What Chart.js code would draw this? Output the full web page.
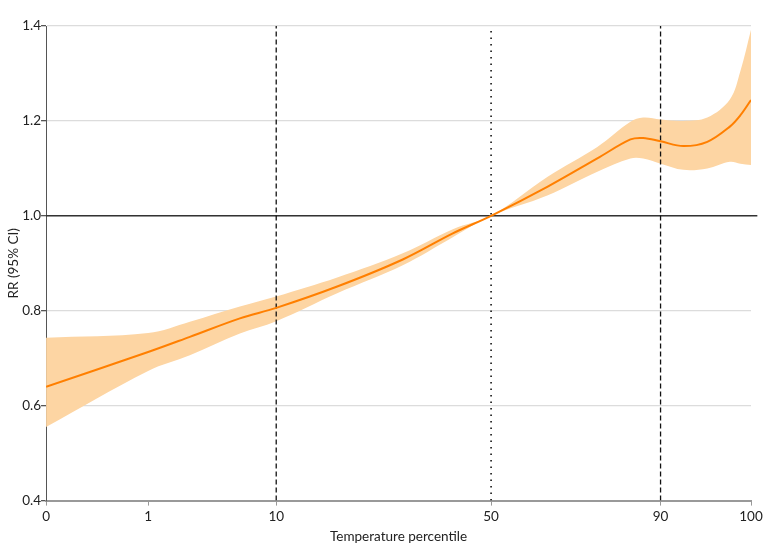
<!DOCTYPE html>
<html>
<head>
<meta charset="utf-8">
<script src="https://cdn.jsdelivr.net/npm/chart.js@4.4.0/dist/chart.umd.min.js"></script>
<style>
  html, body { margin: 0; padding: 0; background: #fff; }
  #wrap { width: 780px; height: 553px; }
</style>
</head>
<body>
<div id="wrap"><canvas id="c"></canvas></div>
<script>
// x positions are along the (non-linear) percentile axis, 0..100 of its length
const tickPos = [0, 14.48, 32.65, 63.13, 87.17, 100];
const tickLabels = ["0", "1", "10", "50", "90", "100"];

const xPos = [0, 14.48, 20.4, 27.5, 32.65, 41.3, 50.6, 57.7, 63.13, 71.1, 78.2, 82.9, 84.7, 87.17, 90.4, 93.8, 97.0, 98.5, 100];
const rr = [0.640, 0.713, 0.745, 0.784, 0.806, 0.851, 0.908, 0.963, 1.000, 1.061, 1.121, 1.161, 1.164, 1.157, 1.147, 1.156, 1.188, 1.212, 1.244];
const ciUpper = [0.743, 0.753, 0.777, 0.809, 0.830, 0.870, 0.921, 0.972, 1.000, 1.082, 1.145, 1.198, 1.207, 1.203, 1.200, 1.207, 1.245, 1.305, 1.392];
const ciLower = [0.555, 0.673, 0.706, 0.752, 0.778, 0.837, 0.896, 0.955, 1.000, 1.043, 1.093, 1.121, 1.121, 1.110, 1.097, 1.100, 1.114, 1.110, 1.107];

// reference lines: 10th and 90th dashed, 50th dotted
const dashedAt = [32.65, 87.17];
const dottedAt = [63.13];

const FONT = "Lato, 'Open Sans', sans-serif";
const toPts = ys => xPos.map((x, i) => ({ x, y: ys[i] }));
const vLine = x => [{ x, y: 0.4 }, { x, y: 1.4 }];

const datasets = [
    {
        label: "upper",
        data: toPts(ciUpper),
        borderWidth: 0,
        pointRadius: 0,
        backgroundColor: "#fdd5a3",
        fill: "+1",
        tension: 0.35,
        order: 10
    },
    {
        label: "lower",
        data: toPts(ciLower),
        borderWidth: 0,
        pointRadius: 0,
        fill: false,
        tension: 0.35,
        order: 10
    },
    {
        label: "ref",
        data: [{ x: 0, y: 1 }, { x: 100.9, y: 1 }],
        borderColor: "#333",
        borderWidth: 1.5,
        pointRadius: 0,
        clip: false,
        order: 5
    },
    {
        label: "RR",
        data: toPts(rr),
        borderColor: "#ff7f00",
        borderWidth: 2,
        pointRadius: 0,
        fill: false,
        tension: 0.35,
        order: 0
    }
];

dashedAt.forEach(x => datasets.push({
    data: vLine(x), borderColor: "#111", borderWidth: 1.3,
    borderDash: [5, 3], pointRadius: 0, order: 4
}));
dottedAt.forEach(x => datasets.push({
    data: vLine(x), borderColor: "#111", borderWidth: 1.6,
    borderDash: [1.5, 5], pointRadius: 0, order: 4
}));

new Chart(document.getElementById("c"), {
    type: "line",
    data: { datasets },
    options: {
        responsive: true,
        maintainAspectRatio: false,
        animation: false,
        layout: { padding: { top: 26, right: 29, left: 6, bottom: 4 } },
        plugins: {
            legend: { display: false },
            tooltip: { enabled: false }
        },
        scales: {
            x: {
                type: "linear",
                min: 0,
                max: 100,
                afterBuildTicks(scale) {
                    scale.ticks = tickPos.map(v => ({ value: v }));
                },
                ticks: {
                    autoSkip: false,
                    maxRotation: 0,
                    color: "#222",
                    font: { family: FONT, size: 13.5 },
                    padding: 3,
                    callback(value) {
                        const i = tickPos.indexOf(value);
                        return i >= 0 ? tickLabels[i] : "";
                    }
                },
                grid: { drawOnChartArea: false, tickLength: 5, tickColor: "#999" },
                border: { color: "#999", width: 2 },
                title: {
                    display: true,
                    text: "Temperature percentile",
                    color: "#222",
                    font: { family: FONT, size: 13.5 },
                    padding: { top: 1 }
                }
            },
            y: {
                min: 0.4,
                max: 1.4,
                ticks: {
                    stepSize: 0.2,
                    color: "#222",
                    font: { family: FONT, size: 13.5 },
                    padding: 0,
                    callback: v => v.toFixed(1)
                },
                grid: { color: "#dcdcdc", lineWidth: 1.3, tickLength: 5, tickColor: "#555" },
                border: { color: "#555", width: 1 },
                title: {
                    display: true,
                    text: "RR (95% CI)",
                    color: "#222",
                    font: { family: FONT, size: 13.5 },
                    padding: { top: 0, bottom: 0 }
                }
            }
        }
    }
});
</script>
</body>
</html>
